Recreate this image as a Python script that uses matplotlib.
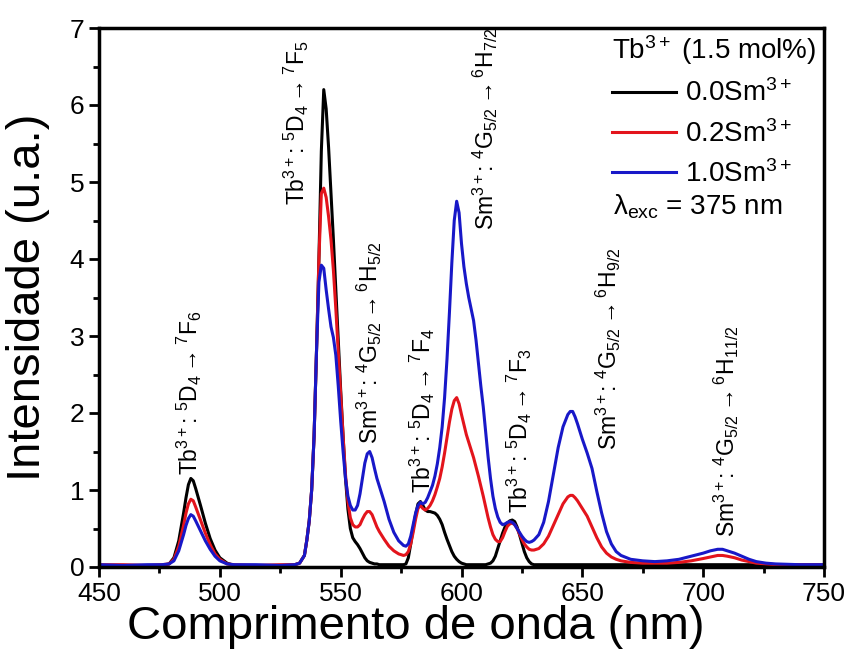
import matplotlib
matplotlib.use('Agg')
import matplotlib.pyplot as plt
from matplotlib.ticker import MultipleLocator

plt.rcParams['font.family'] = ['Liberation Sans', 'DejaVu Sans']
plt.rcParams['mathtext.fontset'] = 'custom'
plt.rcParams['mathtext.rm'] = 'Liberation Sans'
plt.rcParams['mathtext.it'] = 'Liberation Sans:italic'
plt.rcParams['mathtext.bf'] = 'Liberation Sans:bold'
plt.rcParams['mathtext.default'] = 'regular'
plt.rcParams['mathtext.fallback'] = 'stixsans'

# comprimento de onda (nm)
wavelength = [450, 460, 470, 476, 479, 481, 483, 485, 486, 487, 488, 489, 490, 492, 494, 496, 498, 500,
              503, 506, 515, 525, 531, 533, 535, 536, 537, 538, 539, 540, 541, 542, 543, 544, 545, 546,
              547, 548, 549, 550, 551, 552, 553, 554, 555, 556, 557, 558, 559, 560, 561, 562, 563, 564,
              565, 566, 568, 570, 572, 574, 576, 577, 578, 579, 580, 581, 582, 583, 584, 585, 586, 587,
              588, 589, 590, 591, 592, 593, 594, 595, 596, 597, 598, 599, 600, 601, 602, 603, 604, 605,
              606, 607, 608, 609, 610, 611, 612, 613, 614, 615, 616, 617, 618, 619, 620, 621, 622, 623,
              624, 625, 626, 627, 628, 629, 630, 632, 634, 636, 638, 640, 642, 644, 645, 646, 647, 648,
              650, 652, 654, 656, 658, 660, 662, 664, 666, 670, 675, 680, 685, 690, 695, 700, 703, 706,
              708, 710, 713, 716, 719, 722, 726, 730, 740, 750]

# 0.0 Sm3+
sm_00 = [0.02, 0.02, 0.02, 0.02, 0.04, 0.12, 0.34, 0.70, 0.90, 1.07, 1.15, 1.12, 1.02, 0.80, 0.57, 0.37, 0.22, 0.12,
         0.05, 0.02, 0.02, 0.02, 0.03, 0.05, 0.15, 0.35, 0.60, 1.00, 1.70, 2.80, 4.00, 5.40, 6.20, 5.95, 5.45, 4.85,
         4.25, 3.60, 2.95, 2.30, 1.70, 1.15, 0.75, 0.50, 0.38, 0.33, 0.29, 0.24, 0.18, 0.12, 0.08, 0.06, 0.05, 0.04,
         0.04, 0.03, 0.03, 0.03, 0.03, 0.03, 0.03, 0.04, 0.12, 0.30, 0.50, 0.68, 0.82, 0.85, 0.80, 0.74, 0.72, 0.72,
         0.71, 0.70, 0.67, 0.62, 0.55, 0.45, 0.36, 0.28, 0.20, 0.14, 0.10, 0.07, 0.05, 0.04, 0.03, 0.03, 0.03, 0.03,
         0.03, 0.03, 0.03, 0.03, 0.03, 0.04, 0.05, 0.08, 0.14, 0.24, 0.34, 0.44, 0.52, 0.57, 0.60, 0.61, 0.59, 0.52,
         0.42, 0.31, 0.20, 0.12, 0.07, 0.04, 0.03, 0.03, 0.03, 0.03, 0.03, 0.03, 0.03, 0.03, 0.03, 0.03, 0.03, 0.03,
         0.03, 0.03, 0.03, 0.03, 0.03, 0.03, 0.03, 0.03, 0.03, 0.03, 0.03, 0.03, 0.03, 0.03, 0.03, 0.03, 0.03, 0.03,
         0.03, 0.03, 0.03, 0.03, 0.03, 0.03, 0.03, 0.03, 0.03, 0.03]

# 0.2 Sm3+
sm_02 = [0.03, 0.03, 0.02, 0.03, 0.04, 0.10, 0.27, 0.54, 0.70, 0.82, 0.88, 0.86, 0.78, 0.61, 0.44, 0.29, 0.17, 0.10,
         0.04, 0.03, 0.02, 0.03, 0.03, 0.05, 0.15, 0.35, 0.60, 1.00, 1.70, 2.80, 4.00, 4.85, 4.92, 4.80, 4.55, 4.25,
         3.85, 3.35, 2.80, 2.25, 1.70, 1.20, 0.85, 0.64, 0.55, 0.52, 0.52, 0.55, 0.62, 0.68, 0.72, 0.72, 0.68, 0.60,
         0.52, 0.46, 0.36, 0.27, 0.21, 0.17, 0.15, 0.16, 0.20, 0.30, 0.45, 0.62, 0.76, 0.80, 0.76, 0.74, 0.76, 0.80,
         0.86, 0.94, 1.04, 1.15, 1.30, 1.48, 1.68, 1.88, 2.05, 2.16, 2.20, 2.12, 1.98, 1.85, 1.72, 1.62, 1.52, 1.42,
         1.30, 1.18, 1.05, 0.92, 0.78, 0.64, 0.52, 0.42, 0.36, 0.33, 0.33, 0.38, 0.46, 0.53, 0.56, 0.57, 0.55, 0.50,
         0.43, 0.36, 0.30, 0.26, 0.23, 0.22, 0.22, 0.24, 0.30, 0.40, 0.54, 0.68, 0.82, 0.91, 0.93, 0.93, 0.90, 0.86,
         0.76, 0.66, 0.52, 0.38, 0.26, 0.18, 0.13, 0.10, 0.08, 0.06, 0.05, 0.05, 0.05, 0.06, 0.08, 0.11, 0.13, 0.15,
         0.15, 0.14, 0.12, 0.09, 0.07, 0.05, 0.04, 0.03, 0.03, 0.03]

# 1.0 Sm3+
sm_10 = [0.03, 0.02, 0.03, 0.03, 0.04, 0.08, 0.21, 0.42, 0.54, 0.63, 0.68, 0.66, 0.60, 0.47, 0.34, 0.23, 0.14, 0.08,
         0.04, 0.03, 0.03, 0.02, 0.03, 0.05, 0.15, 0.35, 0.60, 1.00, 1.70, 2.80, 3.70, 3.92, 3.88, 3.60, 3.35, 3.12,
         2.98, 2.75, 2.35, 1.90, 1.50, 1.15, 0.92, 0.80, 0.74, 0.74, 0.80, 0.95, 1.15, 1.35, 1.47, 1.50, 1.42, 1.28,
         1.15, 1.05, 0.85, 0.62, 0.45, 0.34, 0.28, 0.27, 0.30, 0.40, 0.55, 0.70, 0.80, 0.84, 0.82, 0.84, 0.90, 0.98,
         1.06, 1.18, 1.34, 1.55, 1.82, 2.20, 2.70, 3.30, 3.95, 4.50, 4.75, 4.60, 4.20, 3.90, 3.68, 3.50, 3.35, 3.20,
         2.95, 2.65, 2.35, 2.08, 1.75, 1.43, 1.15, 0.92, 0.76, 0.65, 0.58, 0.55, 0.56, 0.58, 0.59, 0.58, 0.55, 0.50,
         0.45, 0.40, 0.36, 0.33, 0.32, 0.33, 0.35, 0.42, 0.58, 0.85, 1.20, 1.55, 1.82, 1.98, 2.02, 2.02, 1.95, 1.86,
         1.66, 1.48, 1.28, 0.98, 0.70, 0.46, 0.30, 0.20, 0.15, 0.10, 0.08, 0.07, 0.08, 0.10, 0.14, 0.18, 0.21, 0.23,
         0.23, 0.21, 0.18, 0.14, 0.10, 0.07, 0.05, 0.04, 0.03, 0.03]

series_labels = [r'0.0Sm$^{3+}$', r'0.2Sm$^{3+}$', r'1.0Sm$^{3+}$']
series_colors = ['black', '#e3141c', '#1818c8']

# transições (posição x, y da base do texto)
trans_text = [r'Tb$^{3+}$: $^5$D$_4$$\rightarrow$$^7$F$_6$',
              r'Tb$^{3+}$: $^5$D$_4$$\rightarrow$$^7$F$_5$',
              r'Sm$^{3+}$: $^4$G$_{5/2}$$\rightarrow$$^6$H$_{5/2}$',
              r'Tb$^{3+}$: $^5$D$_4$$\rightarrow$$^7$F$_4$',
              r'Sm$^{3+}$: $^4$G$_{5/2}$$\rightarrow$$^6$H$_{7/2}$',
              r'Tb$^{3+}$: $^5$D$_4$$\rightarrow$$^7$F$_3$',
              r'Sm$^{3+}$: $^4$G$_{5/2}$$\rightarrow$$^6$H$_{9/2}$',
              r'Sm$^{3+}$: $^4$G$_{5/2}$$\rightarrow$$^6$H$_{11/2}$']
trans_x = [487.6, 531.5, 562.0, 584.0, 610.0, 623.8, 660.6, 709.8]
trans_y = [1.20, 4.70, 1.60, 0.96, 4.38, 0.70, 1.52, 0.39]

fig = plt.figure(figsize=(8.51, 6.54), dpi=100)
ax = fig.add_axes([99 / 851, 1 - 567 / 654, 725 / 851, 539 / 654])

for y, c, lab in zip([sm_00, sm_02, sm_10], series_colors, series_labels):
    ax.plot(wavelength, y, color=c, lw=2.2, label=lab)

for t, x, y in zip(trans_text, trans_x, trans_y):
    ax.text(x, y, t, rotation=90, ha='center', va='bottom', fontsize=16.5)

ax.set_xlim(450, 750)
ax.set_ylim(0, 7)
ax.xaxis.set_major_locator(MultipleLocator(50))
ax.xaxis.set_minor_locator(MultipleLocator(25))
ax.yaxis.set_major_locator(MultipleLocator(1))
ax.yaxis.set_minor_locator(MultipleLocator(0.5))
ax.tick_params(which='both', direction='out', width=2, labelsize=19, top=False, right=False)
ax.tick_params(which='major', length=7)
ax.tick_params(which='minor', length=4)
for s in ax.spines.values():
    s.set_linewidth(2.5)

ax.set_xlabel('Comprimento de onda (nm)', fontsize=34)
ax.xaxis.set_label_coords(0.437, -0.07, transform=ax.transAxes)
ax.xaxis.label.set_va('top')
ax.set_ylabel('Intensidade (u.a.)', fontsize=34, labelpad=14)

leg = ax.legend(loc='upper left', bbox_to_anchor=(0.708, 0.99), frameon=False, fontsize=20,
                title=r'Tb$^{3+}$ (1.5 mol%)', title_fontsize=20, alignment='left',
                handlelength=2.3, handletextpad=0.3, labelspacing=0.45,
                borderpad=0, borderaxespad=0)
ax.text(0.709, 0.668, r'$\lambda_{exc}$ = 375 nm', transform=ax.transAxes, fontsize=20,
        ha='left', va='center')

fig.savefig('out.png', dpi=100)
